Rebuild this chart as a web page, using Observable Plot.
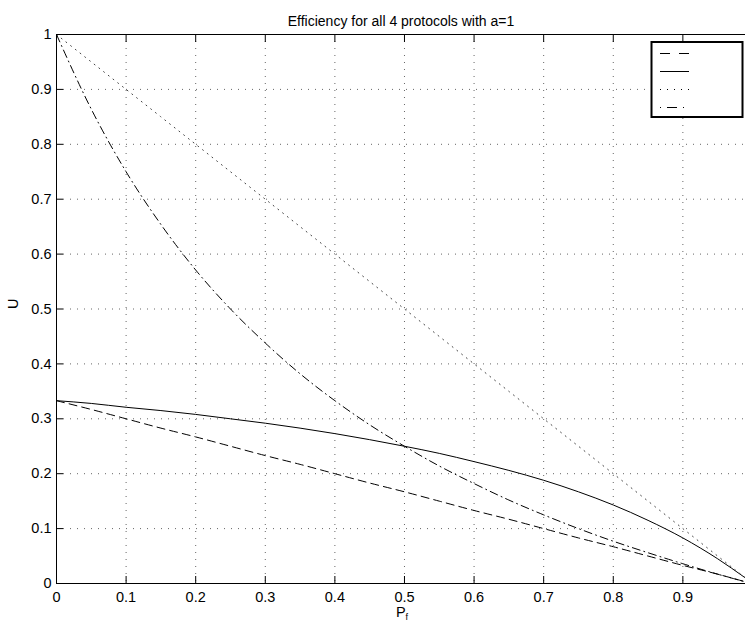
<!DOCTYPE html>
<html><head><meta charset="utf-8">
<script src="https://cdn.jsdelivr.net/npm/d3@7"></script>
<script src="https://cdn.jsdelivr.net/npm/@observablehq/plot@0.6"></script>
<style>
body{margin:0;background:#fff}
#wrap{position:relative;width:745px;height:622px;overflow:hidden}
</style>
</head><body><div id="wrap"></div>
<script>
const titleText = "Efficiency for all 4 protocols with a=1";
const xTicks = [0, 0.1, 0.2, 0.3, 0.4, 0.5, 0.6, 0.7, 0.8, 0.9];
const yTicks = [0, 0.1, 0.2, 0.3, 0.4, 0.5, 0.6, 0.7, 0.8, 0.9, 1];
const pf = [0, 0.05, 0.1, 0.15, 0.2, 0.25, 0.3, 0.35, 0.4, 0.45, 0.5, 0.55, 0.6, 0.65, 0.7, 0.75, 0.8, 0.85, 0.9, 0.95, 0.99];
const uDashed  = [0.333, 0.317, 0.300, 0.283, 0.267, 0.250, 0.233, 0.217, 0.200, 0.183, 0.167, 0.150, 0.133, 0.117, 0.100, 0.083, 0.067, 0.050, 0.033, 0.017, 0.003];
const uSolid   = [0.333, 0.328, 0.321, 0.315, 0.308, 0.300, 0.292, 0.283, 0.273, 0.262, 0.250, 0.237, 0.222, 0.206, 0.188, 0.167, 0.143, 0.115, 0.083, 0.045, 0.010];
const uDotted  = [1.000, 0.950, 0.900, 0.850, 0.800, 0.750, 0.700, 0.650, 0.600, 0.550, 0.500, 0.450, 0.400, 0.350, 0.300, 0.250, 0.200, 0.150, 0.100, 0.050, 0.010];
const uDashDot = [1.000, 0.864, 0.750, 0.654, 0.571, 0.500, 0.438, 0.382, 0.333, 0.289, 0.250, 0.214, 0.182, 0.152, 0.125, 0.100, 0.077, 0.056, 0.036, 0.017, 0.003];

const seriesDefs = [
  {name: "dashed", values: uDashed, dash: "8,5", color: "#000", legendDash: "10,9"},
  {name: "solid", values: uSolid, dash: null, color: "#000", legendDash: null},
  {name: "dotted", values: uDotted, dash: "1,5", color: "#444", legendDash: "1,6"},
  {name: "dashdot", values: uDashDot, dash: "8,4,1,4", color: "#000", legendDash: "1,6,10,6"}
];

const font = "'Liberation Sans', Arial, Helvetica, sans-serif";
const fmt = d => String(d);

const lineMarks = seriesDefs.map(s =>
  Plot.line(pf.map((p, i) => ({p, u: s.values[i]})), {
    x: "p", y: "u", stroke: s.color, strokeWidth: 1,
    strokeDasharray: s.dash, curve: "monotone-x"
  })
);

const chart = Plot.plot({
  width: 745, height: 622,
  marginLeft: 56, marginRight: 0, marginTop: 34, marginBottom: 39,
  style: {fontFamily: font, fontSize: "14.5px", color: "#000", background: "#fff", overflow: "visible"},
  x: {domain: [0, 0.99]},
  y: {domain: [0, 1]},
  marks: [
    Plot.gridX(xTicks.filter(d => d > 0), {stroke: "#666", strokeOpacity: 1, strokeDasharray: "1,6"}),
    Plot.gridY(yTicks.filter(d => d > 0 && d < 1), {stroke: "#666", strokeOpacity: 1, strokeDasharray: "1,6"}),
    ...lineMarks,
    Plot.ruleX([0], {stroke: "#000"}),
    Plot.ruleY([0, 1], {stroke: "#000"}),
    Plot.axisX(xTicks, {anchor: "bottom", tickSize: -7, tickFormat: () => "", label: null}),
    Plot.axisX(xTicks, {anchor: "top", tickSize: -7, tickFormat: () => "", label: null}),
    Plot.axisY(yTicks, {anchor: "left", tickSize: -7, tickFormat: () => "", label: null}),
    Plot.axisX(xTicks, {anchor: "bottom", tickSize: 0, tickPadding: 8, label: null, tickFormat: fmt, fontSize: 14.5}),
    Plot.axisY(yTicks, {anchor: "left", tickSize: 0, tickPadding: 5, label: null, tickFormat: fmt, fontSize: 14.5}),
    Plot.text([titleText], {frameAnchor: "top", dy: -18, fontSize: 14, text: d => d}),
    Plot.text(["U"], {frameAnchor: "left", dx: -43, rotate: -90, fontSize: 14.5, text: d => d})
  ]
});

const wrap = document.getElementById("wrap");
wrap.appendChild(chart);

const svg = d3.select(chart);
const xl = svg.append("text")
  .attr("x", 402).attr("y", 617)
  .attr("font-family", font).attr("font-size", 14.5).attr("fill", "#000");
xl.append("tspan").text("P");
xl.append("tspan").attr("font-size", 9).attr("dy", 3).text("f");

const lg = svg.append("g");
lg.append("rect").attr("x", 651.5).attr("y", 42).attr("width", 91).attr("height", 75)
  .attr("fill", "#fff").attr("stroke", "#000").attr("stroke-width", 2);
const ly = [53.5, 71.5, 89.5, 107.5];
seriesDefs.forEach((s, i) => {
  lg.append("line").attr("x1", 660).attr("x2", 689).attr("y1", ly[i]).attr("y2", ly[i])
    .attr("stroke", "#000").attr("stroke-width", 1)
    .attr("stroke-dasharray", s.legendDash);
});
</script>
</body></html>
